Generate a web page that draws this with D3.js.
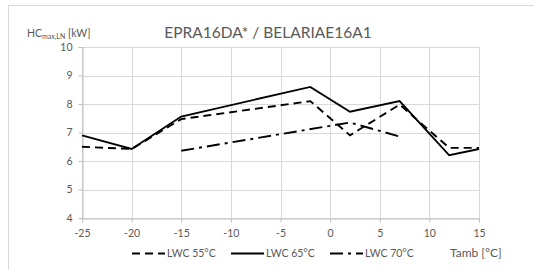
<!DOCTYPE html>
<html>
<head>
<meta charset="utf-8">
<script src="https://cdn.jsdelivr.net/npm/d3@7"></script>
<style>
  body { margin: 0; background: #fff; }
  text { font-family: Lato, "Open Sans", sans-serif; fill: #595959; }
</style>
</head>
<body>
<svg id="chart" width="534" height="270"></svg>
<script>
// data
var tamb55 = [-25, -20, -15, -2, 2, 7, 12, 15]
var lwc55 = [6.5, 6.42, 7.47, 8.1, 6.9, 7.98, 6.46, 6.46]
var tamb65 = [-25, -20, -15, -2, 2, 7, 12, 15]
var lwc65 = [6.9, 6.42, 7.56, 8.6, 7.73, 8.1, 6.2, 6.42]
var tamb70 = [-15, 2, 7]
var lwc70 = [6.36, 7.35, 6.86]
var xTicks = [-25, -20, -15, -10, -5, 0, 5, 10, 15]
var yTicks = [4, 5, 6, 7, 8, 9, 10]

var svg = d3.select('#chart')

// chart frame
svg.append('rect')
  .attr('x', 8.5).attr('y', 5.5)
  .attr('width', 540).attr('height', 280)
  .attr('fill', 'none').attr('stroke', '#d9d9d9')

var x = d3.scaleLinear().domain([-25, 15]).range([82, 479])
var y = d3.scaleLinear().domain([4, 10]).range([218, 47])

// grid
svg.append('g').selectAll('line').data(yTicks).enter()
  .append('line')
  .attr('x1', x(-25)).attr('x2', x(15))
  .attr('y1', d => Math.round(y(d)) + 0.5).attr('y2', d => Math.round(y(d)) + 0.5)
  .attr('stroke', '#d9d9d9')
svg.append('g').selectAll('line').data(xTicks).enter()
  .append('line')
  .attr('x1', d => Math.round(x(d)) + 0.5).attr('x2', d => Math.round(x(d)) + 0.5)
  .attr('y1', y(10)).attr('y2', y(4))
  .attr('stroke', '#d9d9d9')

// axes
var fmt = d => String(d)
svg.append('g')
  .attr('transform', 'translate(' + (Math.round(x(-25)) + 0.5) + ',0)')
  .call(d3.axisLeft(y).tickValues(yTicks).tickFormat(fmt).tickSize(4).tickPadding(6))
svg.append('g')
  .attr('transform', 'translate(0,' + (Math.round(y(4)) + 0.5) + ')')
  .call(d3.axisBottom(x).tickValues(xTicks).tickFormat(fmt).tickSize(4).tickPadding(7))
svg.selectAll('.domain, .tick line').attr('stroke', '#bfbfbf')
svg.selectAll('.tick text').style('font-size', '10.5px').attr('fill', '#595959')
  .style('font-family', 'Lato, sans-serif')

var line = d3.line().x(d => x(d[0])).y(d => y(d[1]))

var series = [
  { name: 'LWC 55°C', t: tamb55, v: lwc55, dash: '8,5' },
  { name: 'LWC 65°C', t: tamb65, v: lwc65, dash: null },
  { name: 'LWC 70°C', t: tamb70, v: lwc70, dash: '13,5,3,5' }
]

series.forEach(function(s) {
  svg.append('path')
    .datum(d3.zip(s.t, s.v))
    .attr('d', line)
    .attr('fill', 'none')
    .attr('stroke', '#000')
    .attr('stroke-width', 1.9)
    .attr('stroke-dasharray', s.dash)
})

// title
svg.append('text')
  .attr('x', 268).attr('y', 38)
  .attr('text-anchor', 'middle')
  .style('font-size', '15.5px')
  .text('EPRA16DA* / BELARIAE16A1')

// y axis label
var yl = svg.append('text').attr('x', 27).attr('y', 37).style('font-size', '10.5px')
yl.append('tspan').text('HC')
yl.append('tspan').attr('dy', 2).style('font-size', '7px').text('max,LN')
yl.append('tspan').attr('dy', -2).text(' [kW]')

// legend
var leg = svg.append('g').selectAll('g').data(series).enter()
  .append('g')
  .attr('transform', (d, i) => 'translate(' + (132 + i * 99) + ',257)')
leg.append('line')
  .attr('x1', 0).attr('x2', 33).attr('y1', -3.5).attr('y2', -3.5)
  .attr('stroke', '#000').attr('stroke-width', 1.9)
  .attr('stroke-dasharray', d => d.dash)
leg.append('text')
  .attr('x', 35).attr('y', 0)
  .style('font-size', '10.5px')
  .text(d => d.name)

svg.append('text')
  .attr('x', 450).attr('y', 257)
  .style('font-size', '12px')
  .text('Tamb [°C]')
</script>
</body>
</html>
